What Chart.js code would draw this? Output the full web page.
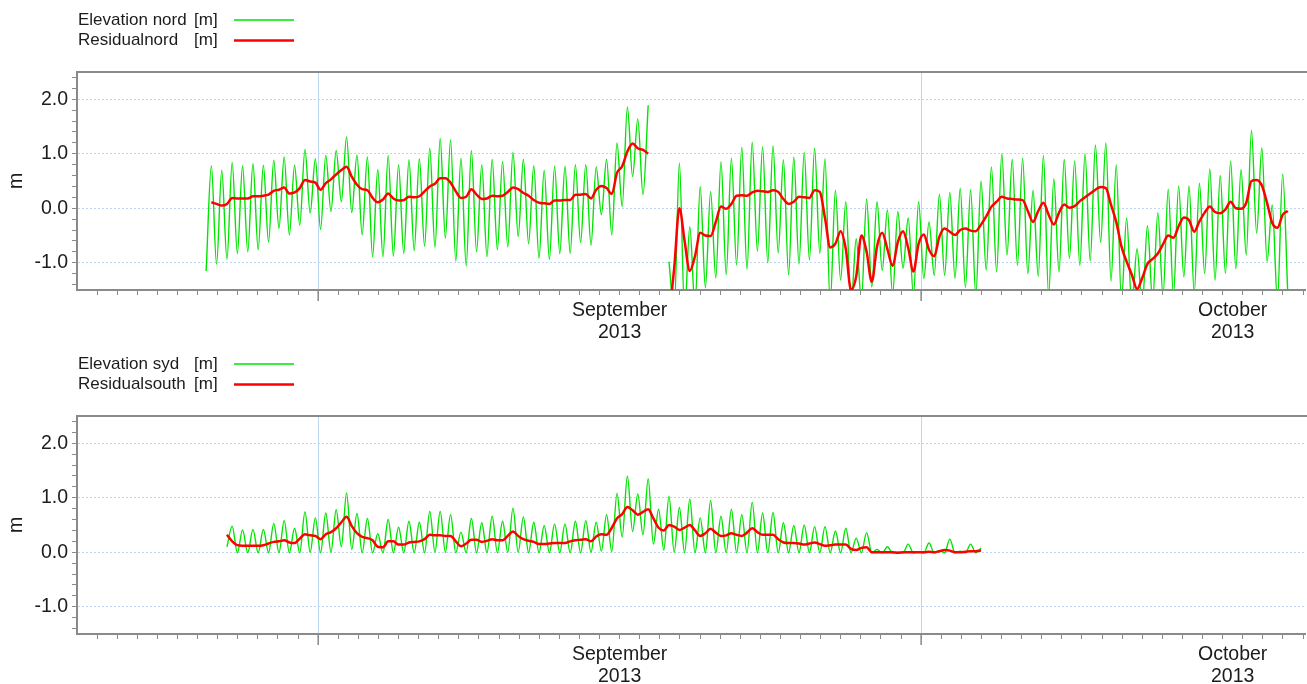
<!DOCTYPE html>
<html>
<head>
<meta charset="utf-8">
<title>Elevation nord / syd</title>
<script src="https://cdn.jsdelivr.net/npm/chart.js@4.4.1/dist/chart.umd.min.js"></script>
<style>
  html, body { margin: 0; padding: 0; background: #fff; }
  #wrap { position: relative; width: 1307px; height: 684px; overflow: hidden; }
  #nord-box { position: absolute; left: 0; top: 0; width: 1307px; height: 344px; }
  #syd-box { position: absolute; left: 0; top: 344px; width: 1307px; height: 340px; }
</style>
</head>
<body>
<div id="wrap">
  <div id="nord-box"><canvas id="nord-chart" width="1307" height="344"></canvas></div>
  <div id="syd-box"><canvas id="syd-chart" width="1307" height="340"></canvas></div>
</div>
<script>
// Time axis: days counted from 1 September 2013 00:00
const xMin = -12;      // 20 Aug 2013
const xMax = 49.1;     // just past 20 Oct 2013
const monthStartDays = [0, 30];
const monthLabelDays = [15, 45.5];
const monthLabels = [['September', '2013'], ['October', '2013']];
const yTicks = [-1.4, -1.2, -1.0, -0.8, -0.6, -0.4, -0.2, 0, 0.2, 0.4, 0.6, 0.8,
                1.0, 1.2, 1.4, 1.6, 1.8, 2.0, 2.2, 2.4];

// Samples are the successive tidal highs and lows (half an M2 period apart)
const firstSampleDay = -5.574;
const sampleStep = 0.25875;

// Elevation nord [m]
const nordElev = [
  -1.15, 0.78, -1.03, 0.70, -0.94, 0.84, -0.83, 0.78, -0.80, 0.82,
  -0.76, 0.79, -0.62, 0.88, -0.37, 0.94, -0.49, 0.79, -0.31, 1.08,
  -0.09, 0.91, -0.39, 0.97, -0.06, 1.06, 0.12, 1.31, -0.08, 0.98,
  -0.49, 0.94, -0.89, 0.71, -0.89, 0.97, -0.88, 0.80, -0.83, 0.89,
  -0.78, 0.91, -0.70, 1.10, -0.72, 1.28, -0.55, 1.26, -0.97, 0.92,
  -1.06, 1.06, -0.80, 0.80, -0.89, 0.90, -0.76, 0.86, -0.71, 1.03,
  -0.52, 0.90, -0.65, 0.78, -0.92, 0.70, -0.94, 0.77, -0.83, 0.77,
  -0.83, 0.80, -0.63, 0.80, -0.68, 0.76, -0.12, 0.90, -0.49, 1.20,
  0.03, 1.86, 0.58, 1.64, 0.25, 1.89, null, null, null, -0.98,
  -1.90, 0.83, -1.90, -0.34, -1.80, 0.40, -1.46, 0.31, -1.28, 0.86,
  -1.22, 0.92, -1.04, 1.12, -1.12, 1.21, -0.79, 1.13, -1.00, 1.15,
  -0.82, 0.89, -1.22, 0.94, -1.02, 1.03, -0.95, 1.10, -0.83, 0.91,
  -1.75, 0.33, -1.32, 0.12, -1.80, -0.56, -1.70, 0.17, -1.45, 0.12,
  -1.14, -0.03, -1.60, -0.06, -1.10, -0.18, -1.60, 0.12, -1.29, -0.25,
  -1.23, 0.26, -1.23, 0.29, -1.29, 0.37, -1.45, 0.34, -1.60, 0.50,
  -1.14, 0.76, -1.17, 1.00, -0.86, 0.90, -1.05, 0.92, -1.20, 0.33,
  -1.25, 0.97, -1.60, 0.54, -1.17, 0.90, -0.92, 0.87, -1.05, 1.00,
  -0.97, 1.16, -0.63, 1.20, -1.34, 0.80, -1.70, -0.18, -1.80, -0.74,
  -1.80, -0.32, -1.70, -0.08, -1.60, 0.35, -1.60, 0.41, -1.26, 0.41,
  -1.55, 0.46, -1.20, 0.72, -1.32, 0.60, -1.20, 0.87, -1.11, 0.71,
  -0.86, 1.43, -0.46, 1.11, -0.98, 0.06, -1.70, 0.63, -1.60
];

// Residualnord [m]
const nordRes = [
  null, 0.11, 0.08, 0.05, 0.08, 0.19, 0.18, 0.18, 0.18, 0.22,
  0.22, 0.23, 0.25, 0.32, 0.34, 0.38, 0.27, 0.29, 0.37, 0.52,
  0.49, 0.47, 0.34, 0.46, 0.53, 0.62, 0.70, 0.76, 0.58, 0.43,
  0.35, 0.33, 0.19, 0.11, 0.16, 0.27, 0.18, 0.14, 0.15, 0.21,
  0.20, 0.22, 0.31, 0.40, 0.45, 0.55, 0.55, 0.47, 0.31, 0.19,
  0.21, 0.35, 0.25, 0.17, 0.18, 0.23, 0.22, 0.23, 0.30, 0.38,
  0.35, 0.28, 0.23, 0.15, 0.10, 0.09, 0.08, 0.14, 0.14, 0.15,
  0.15, 0.25, 0.25, 0.26, 0.18, 0.34, 0.41, 0.37, 0.26, 0.65,
  0.77, 1.04, 1.19, 1.10, 1.07, 1.00, null, null, null, -2.00,
  -1.10, 0.00, -0.60, -1.15, -0.88, -0.45, -0.50, -0.51, -0.25, 0.03,
  -0.01, 0.08, 0.23, 0.24, 0.23, 0.29, 0.32, 0.31, 0.30, 0.33,
  0.30, 0.17, 0.08, 0.12, 0.21, 0.20, 0.19, 0.33, 0.30, -0.18,
  -0.72, -0.65, -0.42, -0.75, -1.50, -1.25, -0.50, -0.80, -1.35, -0.70,
  -0.45, -0.75, -1.06, -0.62, -0.42, -0.73, -1.16, -0.65, -0.48, -0.76,
  -0.88, -0.52, -0.37, -0.43, -0.49, -0.40, -0.37, -0.41, -0.42, -0.30,
  -0.15, 0.03, 0.12, 0.21, 0.18, 0.17, 0.16, 0.15, -0.05, -0.25,
  -0.05, 0.10, -0.12, -0.30, -0.08, 0.07, 0.01, 0.04, 0.13, 0.20,
  0.27, 0.34, 0.39, 0.37, 0.06, -0.25, -0.70, -0.98, -1.22, -1.48,
  -1.28, -1.02, -0.93, -0.83, -0.66, -0.50, -0.54, -0.33, -0.17, -0.22,
  -0.43, -0.24, -0.08, 0.03, -0.07, -0.09, -0.02, 0.12, 0.00, -0.01,
  0.10, 0.50, 0.52, 0.42, 0.10, -0.27, -0.36, -0.12, -0.05
];

// Elevation syd [m]
const sydElev = [
  null, null, null, null, 0.10, 0.48, -0.01, 0.41, -0.01, 0.42,
  -0.01, 0.42, -0.01, 0.53, -0.01, 0.58, -0.01, 0.44, -0.01, 0.74,
  0.00, 0.63, -0.01, 0.72, 0.00, 0.78, 0.10, 1.09, 0.05, 0.71,
  -0.01, 0.62, -0.01, 0.34, -0.01, 0.60, -0.01, 0.46, -0.01, 0.57,
  -0.01, 0.55, -0.01, 0.75, 0.00, 0.75, 0.00, 0.69, -0.01, 0.37,
  -0.01, 0.62, -0.01, 0.54, -0.01, 0.66, -0.01, 0.57, 0.00, 0.81,
  0.00, 0.65, -0.01, 0.55, -0.01, 0.49, -0.01, 0.52, -0.01, 0.52,
  -0.01, 0.57, -0.01, 0.58, 0.00, 0.55, 0.02, 0.69, 0.01, 1.08,
  0.28, 1.40, 0.38, 1.07, 0.32, 1.35, 0.15, 0.79, 0.04, 1.03,
  0.00, 0.82, -0.01, 0.98, -0.01, 0.63, -0.01, 0.95, -0.01, 0.66,
  -0.01, 0.79, -0.01, 0.69, -0.01, 0.92, -0.01, 0.72, -0.01, 0.73,
  -0.01, 0.54, -0.01, 0.49, -0.01, 0.50, -0.01, 0.47, -0.01, 0.47,
  -0.01, 0.39, -0.01, 0.44, -0.01, 0.26, -0.01, 0.36, -0.01, 0.05,
  -0.01, 0.10, -0.01, 0.00, -0.01, 0.15, -0.01, 0.01, -0.01, 0.17,
  -0.01, 0.03, -0.01, 0.24, -0.01, 0.02, -0.01, 0.15, -0.01, 0.08
];

// Residualsouth [m]
const sydRes = [
  null, null, null, null, 0.32, 0.20, 0.13, 0.12, 0.12, 0.12,
  0.12, 0.13, 0.16, 0.19, 0.20, 0.22, 0.18, 0.17, 0.25, 0.33,
  0.31, 0.30, 0.24, 0.33, 0.37, 0.44, 0.55, 0.65, 0.48, 0.35,
  0.28, 0.26, 0.22, 0.10, 0.09, 0.20, 0.20, 0.14, 0.14, 0.18,
  0.19, 0.20, 0.24, 0.32, 0.31, 0.31, 0.30, 0.30, 0.20, 0.11,
  0.16, 0.23, 0.23, 0.19, 0.21, 0.24, 0.22, 0.22, 0.30, 0.38,
  0.30, 0.24, 0.21, 0.19, 0.15, 0.15, 0.16, 0.17, 0.17, 0.17,
  0.20, 0.22, 0.23, 0.24, 0.20, 0.29, 0.33, 0.32, 0.45, 0.62,
  0.70, 0.83, 0.77, 0.69, 0.74, 0.79, 0.62, 0.45, 0.40, 0.50,
  0.47, 0.41, 0.45, 0.50, 0.40, 0.30, 0.35, 0.43, 0.36, 0.30,
  0.31, 0.35, 0.32, 0.30, 0.36, 0.44, 0.37, 0.32, 0.32, 0.32,
  0.24, 0.18, 0.17, 0.17, 0.16, 0.14, 0.16, 0.18, 0.15, 0.12,
  0.13, 0.14, 0.14, 0.14, 0.06, 0.04, 0.08, 0.09, 0.00, 0.00,
  0.00, 0.00, 0.00, -0.01, 0.00, 0.00, 0.00, 0.00, 0.00, 0.01,
  0.00, 0.02, 0.04, 0.03, 0.00, 0.00, 0.01, 0.02, 0.02, 0.03
];

// Styles
const FONT = '"Liberation Sans", Arial, sans-serif';
const textColor = '#1c1c1c';
const axisGray = '#8a8a8a';
const gridBlue = '#bcd6f2';
const elevGreen = '#00e400';
const resRed = '#ff0000';

Chart.defaults.font.family = FONT;
Chart.defaults.color = textColor;

// Daily minor ticks plus the mid-month label positions
const xTicks = [];
for (let d = -11; d <= 49; d++) xTicks.push(d);
monthLabelDays.forEach(d => { if (!xTicks.includes(d)) xTicks.push(d); });
xTicks.sort((a, b) => a - b);

// Turn a value list into {x, y} points on the sample grid
function toPoints(values) {
    return values.map((v, i) => ({ x: firstSampleDay + i * sampleStep, y: v }));
}

// Legend in the top-left corner: text first, line sample after it
const legendPlugin = {
    id: 'cornerLegend',
    afterDraw(chart) {
        const ctx = chart.ctx;
        ctx.save();
        ctx.font = '17px ' + FONT;
        ctx.textBaseline = 'middle';
        ctx.textAlign = 'left';
        ctx.fillStyle = textColor;
        chart.data.datasets.forEach((ds, i) => {
            const y = 20 + i * 20.5;
            const cut = ds.label.lastIndexOf('[');
            ctx.fillText(ds.label.slice(0, cut).trim(), 78, y);
            ctx.fillText(ds.label.slice(cut), 194, y);
            ctx.strokeStyle = ds.borderColor;
            ctx.lineWidth = ds.borderWidth;
            ctx.beginPath();
            ctx.moveTo(234, y);
            ctx.lineTo(294, y);
            ctx.stroke();
        });
        ctx.restore();
    }
};

// Top frame line and the longer tick marks at month starts
const framePlugin = {
    id: 'frame',
    afterDraw(chart) {
        const { ctx, chartArea, scales } = chart;
        ctx.save();
        ctx.strokeStyle = axisGray;
        ctx.lineWidth = 2;
        ctx.beginPath();
        ctx.moveTo(chartArea.left, chartArea.top);
        ctx.lineTo(chart.width, chartArea.top);
        ctx.stroke();
        ctx.lineWidth = 1.5;
        monthStartDays.forEach(d => {
            const x = scales.x.getPixelForValue(d);
            ctx.beginPath();
            ctx.moveTo(x, chartArea.bottom);
            ctx.lineTo(x, chartArea.bottom + 11);
            ctx.stroke();
        });
        ctx.restore();
    }
};

function makeChart(canvasId, elevLabel, elevValues, resLabel, resValues, axisHeight) {
    return new Chart(document.getElementById(canvasId), {
        type: 'line',
        data: {
            datasets: [{
                label: elevLabel,
                data: toPoints(elevValues),
                borderColor: elevGreen,
                borderWidth: 1.4,
                pointRadius: 0,
                cubicInterpolationMode: 'monotone',
                order: 2
            }, {
                label: resLabel,
                data: toPoints(resValues),
                borderColor: resRed,
                borderWidth: 2.5,
                pointRadius: 0,
                cubicInterpolationMode: 'monotone',
                order: 1
            }]
        },
        options: {
            responsive: false,
            animation: false,
            events: [],
            layout: { padding: { top: 72, left: 0, right: 0, bottom: 0 } },
            plugins: {
                legend: { display: false },
                tooltip: { enabled: false }
            },
            scales: {
                x: {
                    type: 'linear',
                    min: xMin,
                    max: xMax,
                    afterBuildTicks: scale => { scale.ticks = xTicks.map(v => ({ value: v })); },
                    afterFit: scale => { scale.height = axisHeight; },
                    ticks: {
                        autoSkip: false,
                        maxRotation: 0,
                        padding: 4,
                        color: textColor,
                        font: { size: 19.5, lineHeight: 1.15 },
                        callback: value => {
                            const k = monthLabelDays.indexOf(value);
                            return k >= 0 ? monthLabels[k] : '';
                        }
                    },
                    grid: {
                        color: ctx => (ctx.tick && monthStartDays.includes(ctx.tick.value)) ? gridBlue : 'transparent',
                        tickColor: ctx => (ctx.tick && Number.isInteger(ctx.tick.value)) ? axisGray : 'transparent',
                        tickLength: 5,
                        lineWidth: 1
                    },
                    border: { color: axisGray, width: 2 }
                },
                y: {
                    min: -1.5,
                    max: 2.5,
                    afterBuildTicks: scale => { scale.ticks = yTicks.map(v => ({ value: v })); },
                    afterFit: scale => { scale.width = 77; },
                    title: {
                        display: true,
                        text: 'm',
                        color: textColor,
                        font: { size: 19.5 },
                        padding: { top: 5, bottom: 0 }
                    },
                    ticks: {
                        autoSkip: false,
                        padding: 4,
                        color: textColor,
                        font: { size: 19.5 },
                        callback: value => Number.isInteger(value) ? value.toFixed(1) : ''
                    },
                    grid: {
                        color: ctx => (ctx.tick && Number.isInteger(ctx.tick.value)) ? gridBlue : 'transparent',
                        tickColor: axisGray,
                        tickLength: 5,
                        lineWidth: 1
                    },
                    border: { color: axisGray, width: 2, dash: [2, 2] }
                }
            }
        },
        plugins: [legendPlugin, framePlugin]
    });
}

makeChart('nord-chart', 'Elevation nord [m]', nordElev, 'Residualnord [m]', nordRes, 54);
makeChart('syd-chart', 'Elevation syd [m]', sydElev, 'Residualsouth [m]', sydRes, 50);
</script>
</body>
</html>
